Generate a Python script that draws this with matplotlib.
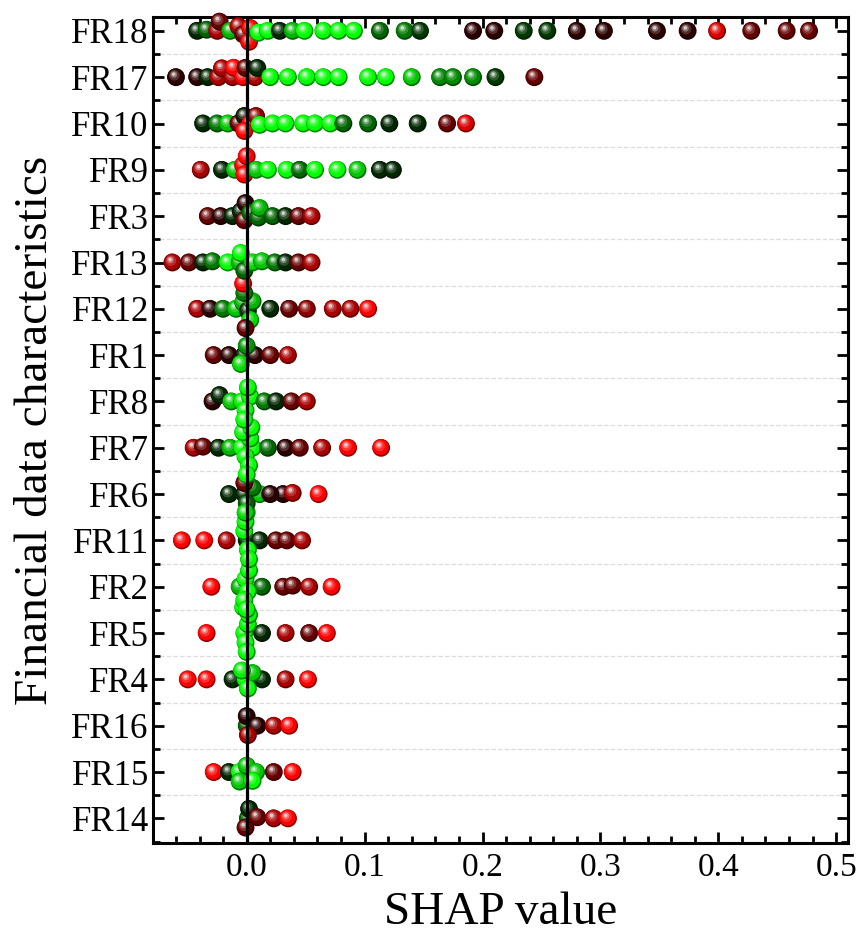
import numpy as np
import matplotlib
matplotlib.use('Agg')
import matplotlib.pyplot as plt
from matplotlib.collections import PathCollection
from matplotlib.colors import LinearSegmentedColormap
from matplotlib.path import Path
from matplotlib.ticker import MultipleLocator, FormatStrFormatter
from matplotlib.transforms import IdentityTransform

plt.rcParams['font.family'] = ['Liberation Serif', 'DejaVu Serif']

# rows from bottom to top
features = ['FR14', 'FR15', 'FR16', 'FR4', 'FR5', 'FR2', 'FR11', 'FR6', 'FR7',
            'FR8', 'FR1', 'FR12', 'FR13', 'FR3', 'FR9', 'FR10', 'FR17', 'FR18']

# SHAP values and normalised feature values (0 = low / green, 1 = high / red)
fr18_shap = [-0.042, -0.034, -0.025, -0.023, -0.014, -0.007, -0.003, 0.003, 0.002, 0.010,
             0.018, 0.028, 0.039, 0.049, 0.065, 0.078, 0.091, 0.113, 0.134, 0.147,
             0.192, 0.210, 0.235, 0.255, 0.280, 0.303, 0.348, 0.374, 0.399, 0.428,
             0.458, 0.477]
fr18_feat = [0.45, 0.33, 0.85, 0.72, 0.2, 0.85, 0.72, 1.0, 1.0, 0.0,
             0.0, 0.45, 0.2, 0.0, 0.0, 0.0, 0.0, 0.33, 0.3, 0.42,
             0.58, 0.58, 0.42, 0.42, 0.58, 0.58, 0.58, 0.58, 0.93, 0.72,
             0.72, 0.72]
fr17_shap = [-0.060, -0.042, -0.033, -0.024, -0.021, -0.012, -0.011, -0.003, -0.001, 0.007,
             0.009, 0.020, 0.035, 0.051, 0.065, 0.078, 0.103, 0.118, 0.140, 0.164,
             0.175, 0.192, 0.211, 0.244]
fr17_feat = [0.58, 0.58, 0.45, 0.85, 0.85, 0.85, 1.0, 1.0, 0.72, 0.85,
             0.45, 0.0, 0.0, 0.0, 0.0, 0.0, 0.0, 0.0, 0.15, 0.27,
             0.27, 0.27, 0.42, 0.72]
fr10_shap = [-0.037, -0.025, -0.016, -0.007, -0.002, 0.003, 0.008, -0.002, 0.011, 0.022,
             0.033, 0.048, 0.058, 0.071, 0.082, 0.103, 0.121, 0.145, 0.170, 0.186]
fr10_feat = [0.45, 0.3, 0.15, 0.72, 0.5, 1.0, 0.8, 1.0, 0.0, 0.0,
             0.0, 0.0, 0.0, 0.0, 0.33, 0.33, 0.45, 0.45, 0.72, 0.93]
fr9_shap = [-0.039, -0.021, -0.010, -0.003, -0.002, 0.000, 0.008, 0.018, 0.034, 0.045,
            0.058, 0.077, 0.094, 0.113, 0.124]
fr9_feat = [0.85, 0.45, 0.15, 1.0, 1.0, 1.0, 0.15, 0.0, 0.0, 0.33,
            0.0, 0.0, 0.15, 0.45, 0.45]
fr3_shap = [-0.033, -0.022, -0.012, -0.005, -0.002, -0.001, 0.003, 0.010, 0.011, 0.022,
            0.033, 0.044, 0.055]
fr3_feat = [0.72, 0.58, 0.45, 0.45, 0.72, 0.58, 0.33, 0.33, 0.2, 0.33,
            0.45, 0.72, 0.85]
fr13_shap = [-0.063, -0.049, -0.037, -0.029, -0.016, -0.006, -0.005, -0.002, 0.005, 0.013,
             0.024, 0.033, 0.044, 0.055]
fr13_feat = [0.85, 0.72, 0.45, 0.3, 0.0, 0.2, 0.0, 0.33, 0.1, 0.15,
             0.3, 0.45, 0.72, 0.85]
fr12_shap = [-0.042, -0.031, -0.020, -0.009, -0.003, 0.001, 0.003, 0.005, -0.002, 0.020,
             0.036, 0.051, 0.073, 0.088, 0.103, -0.001, -0.003]
fr12_feat = [0.85, 0.58, 0.3, 0.15, 0.2, 0.45, 0.1, 0.2, 0.3, 0.45,
             0.72, 0.8, 0.85, 0.85, 1.0, 0.72, 1.0]
fr1_shap = [-0.028, -0.015, -0.002, 0.007, 0.020, 0.035, 0.000, -0.005]
fr1_feat = [0.72, 0.58, 0.45, 0.58, 0.72, 0.85, 0.25, 0.1]
fr8_shap = [-0.029, -0.023, -0.013, -0.004, 0.003, -0.001, 0.001, -0.002, 0.015, 0.025,
            0.038, 0.051]
fr8_feat = [0.58, 0.45, 0.15, 0.05, 0.0, 0.0, 0.0, 0.0, 0.3, 0.45,
            0.72, 0.85]
fr7_shap = [-0.045, -0.037, -0.024, -0.014, -0.004, 0.005, 0.003, -0.001, 0.002, -0.003,
            0.004, 0.000, 0.018, 0.033, 0.045, 0.064, 0.086, 0.114]
fr7_feat = [0.85, 0.72, 0.45, 0.2, 0.0, 0.0, 0.0, 0.0, 0.0, 0.0,
            0.0, 0.0, 0.33, 0.58, 0.72, 0.85, 1.0, 1.0]
fr6_shap = [-0.015, 0.011, 0.031, -0.002, 0.005, 0.000, 0.020, 0.039, 0.061, -0.002, -0.001]
fr6_feat = [0.45, 0.15, 0.58, 0.45, 0.3, 0.35, 0.58, 0.85, 1.0, 0.72, 0.1]
fr11_shap = [-0.055, -0.036, -0.017, 0.000, 0.011, 0.025, 0.034, 0.047, -0.002, 0.001,
             -0.001, 0.002, 0.000]
fr11_feat = [1.0, 1.0, 0.85, 0.45, 0.45, 0.72, 0.72, 0.85, 0.0, 0.0,
             0.0, 0.0, 0.0]
fr2_shap = [-0.030, 0.013, 0.031, 0.039, 0.053, 0.072, -0.006, -0.001, 0.001, -0.002,
            0.002, 0.000]
fr2_feat = [1.0, 0.33, 0.72, 0.72, 0.85, 1.0, 0.2, 0.0, 0.0, 0.0,
            0.0, 0.0]
fr5_shap = [-0.034, 0.013, 0.033, 0.053, 0.068, -0.002, 0.001, -0.001, 0.002, 0.000, -0.003]
fr5_feat = [1.0, 0.45, 0.85, 0.72, 1.0, 0.0, 0.0, 0.0, 0.0, 0.0, 0.0]
fr4_shap = [-0.050, -0.034, -0.012, 0.013, 0.033, 0.052, -0.001, 0.005, 0.001, -0.004]
fr4_feat = [1.0, 1.0, 0.45, 0.45, 0.85, 1.0, 0.0, 0.15, 0.0, 0.05]
fr16_shap = [0.000, 0.000, 0.009, 0.023, 0.036, 0.001]
fr16_feat = [0.33, 0.58, 0.58, 0.85, 1.0, 0.85]
fr15_shap = [-0.028, -0.015, -0.006, 0.000, 0.008, -0.006, 0.005, 0.023, 0.039]
fr15_feat = [1.0, 0.45, 0.0, 0.15, 0.15, 0.15, 0.0, 0.72, 1.0]
fr14_shap = [0.001, 0.002, -0.001, 0.009, 0.023, 0.035]
fr14_feat = [0.33, 0.45, 0.72, 0.72, 0.85, 1.0]

shap_rows = [fr14_shap, fr15_shap, fr16_shap, fr4_shap, fr5_shap, fr2_shap, fr11_shap,
             fr6_shap, fr7_shap, fr8_shap, fr1_shap, fr12_shap, fr13_shap, fr3_shap,
             fr9_shap, fr10_shap, fr17_shap, fr18_shap]
feat_rows = [fr14_feat, fr15_feat, fr16_feat, fr4_feat, fr5_feat, fr2_feat, fr11_feat,
             fr6_feat, fr7_feat, fr8_feat, fr1_feat, fr12_feat, fr13_feat, fr3_feat,
             fr9_feat, fr10_feat, fr17_feat, fr18_feat]

cmap = LinearSegmentedColormap.from_list('green_red', [
    (0.0, '#00ff00'), (0.2, '#00b400'), (0.33, '#006400'), (0.45, '#002800'),
    (0.58, '#2c0000'), (0.72, '#650000'), (0.85, '#a80000'), (1.0, '#ff0000')])

fig = plt.figure(figsize=(8.63, 9.33), dpi=100)
ax = fig.add_axes([0.1773, 0.0965, 0.8053, 0.8853])

ax.set_yticks(range(len(features)))
ax.set_yticklabels(features)
ax.set_yticks(np.arange(-0.5, len(features), 1), minor=True)
ax.xaxis.set_major_locator(MultipleLocator(0.1))
ax.xaxis.set_minor_locator(MultipleLocator(0.02))
ax.xaxis.set_major_formatter(FormatStrFormatter('%.1f'))
# limits after the ticks, set_yticks would widen them
ax.set_xlim(-0.0795, 0.51)
ax.set_ylim(-0.53, 17.3)


def swarm_offsets(xs, d):
    # simple beeswarm: each point takes the free vertical slot closest to the centre line
    px_list, py_list = [], []
    for x in xs:
        near = [(px, py) for px, py in zip(px_list, py_list) if abs(px - x) < d]
        cands = [0.0]
        for px, py in near:
            h = np.sqrt(d ** 2 - (px - x) ** 2)
            cands += [py + h, py - h]
        for c in sorted(cands, key=lambda v: (abs(v), -v)):
            if all((px - x) ** 2 + (py - c) ** 2 >= d ** 2 - 1e-6 for px, py in near):
                break
        px_list.append(x)
        py_list.append(c)
    return np.array(py_list)


# 3d ball look: stacked circles, each a bit lighter and shifted to the upper left
ball_layers = [(0.0, 0.0, 0.5, -0.45), (-0.035, 0.045, 0.45, 0.0), (-0.09, 0.11, 0.30, 0.18),
               (-0.12, 0.15, 0.19, 0.45), (-0.13, 0.17, 0.10, 0.8)]
ball_paths = [Path.circle((cx, cy), r) for cx, cy, r, _ in ball_layers]

row_px = ax.transData.transform([(0, 1)])[0, 1] - ax.transData.transform([(0, 0)])[0, 1]
offsets, colors = [], []
for i, (vals, feats) in enumerate(zip(shap_rows, feat_rows)):
    xpx = ax.transData.transform(np.column_stack([vals, np.full(len(vals), i)]))[:, 0]
    dy = swarm_offsets(xpx, 9.5) / row_px
    for v, f, o in zip(vals, feats, dy):
        base = np.array(cmap(f)[:3])
        for _, _, _, mix in ball_layers:
            if mix < 0:
                c = base * (1 + mix)
            else:
                c = base + (1 - base) * mix
            offsets.append((v, i + o))
            colors.append(c)

balls = PathCollection(ball_paths, sizes=[165], offsets=offsets, offset_transform=ax.transData,
                       facecolors=colors, edgecolors='none', zorder=3, clip_on=False)
balls.set_transform(IdentityTransform())
ax.add_collection(balls, autolim=False)

ax.axvline(0, color='black', lw=2.3, zorder=5)

ax.grid(which='minor', axis='y', linestyle='--', color='#dcdcdc', lw=0.9)
ax.set_axisbelow(True)

ax.tick_params(which='both', direction='in', top=True, right=True, width=2, labelsize=24)
ax.tick_params(which='major', length=8)
ax.tick_params(which='minor', length=5)
ax.tick_params(axis='y', pad=3, labelsize=25)
ax.tick_params(axis='x', pad=7)
for sp in ax.spines.values():
    sp.set_linewidth(2.2)

ax.set_xlabel('SHAP value', fontsize=34, labelpad=6)
ax.set_ylabel('Financial data characteristics', fontsize=34, labelpad=10)

fig.savefig('out.png', dpi=100)
